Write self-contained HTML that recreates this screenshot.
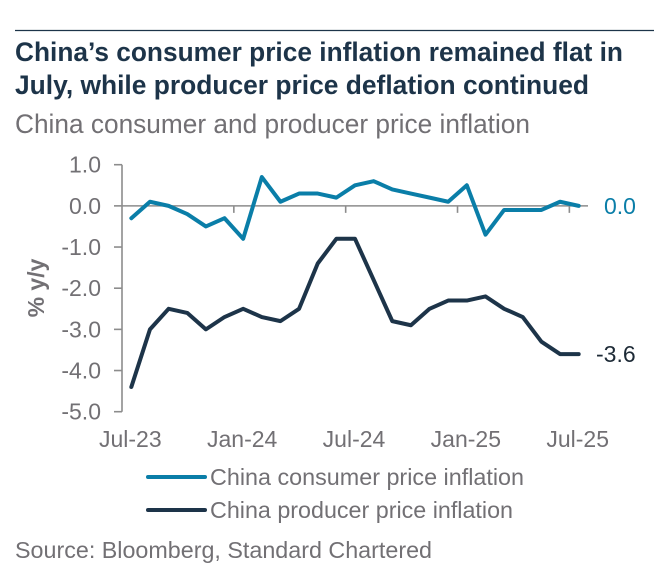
<!DOCTYPE html>
<html lang="en">
<head>
<meta charset="utf-8">
<title>China consumer and producer price inflation</title>
<style>
html,body{margin:0;padding:0;background:#fff;}
svg{display:block;font-family:"Liberation Sans",Arial,sans-serif;}
</style>
</head>
<body>
<svg id="chart" width="670" height="582" viewBox="0 0 670 582" xmlns="http://www.w3.org/2000/svg">
  <rect width="670" height="582" fill="#ffffff"/>
  <line x1="15" x2="654" y1="30.5" y2="30.5" stroke="#1d3449" stroke-width="1.2"/>
  <text x="15" y="61" font-size="27" font-weight="700" fill="#1d3449" textLength="608" lengthAdjust="spacingAndGlyphs">China’s consumer price inflation remained flat in</text>
  <text x="15" y="94" font-size="27" font-weight="700" fill="#1d3449" textLength="574" lengthAdjust="spacingAndGlyphs">July, while producer price deflation continued</text>
  <text x="15" y="133" font-size="26.5" fill="#727074" textLength="515" lengthAdjust="spacingAndGlyphs">China consumer and producer price inflation</text>
  <g id="plot"></g>
  <text transform="translate(44,288) rotate(-90)" text-anchor="middle" font-size="23" font-weight="700" fill="#727074">% y/y</text>
  <line x1="148" x2="205" y1="477" y2="477" stroke="#0a7ea8" stroke-width="4" stroke-linecap="round"/>
  <text x="210" y="485" font-size="23.5" fill="#727074" textLength="314" lengthAdjust="spacingAndGlyphs">China consumer price inflation</text>
  <line x1="148" x2="205" y1="510" y2="510" stroke="#1d3449" stroke-width="4" stroke-linecap="round"/>
  <text x="210" y="518" font-size="23.5" fill="#727074" textLength="303" lengthAdjust="spacingAndGlyphs">China producer price inflation</text>
  <text x="15" y="558" font-size="23.5" fill="#727074" textLength="417" lengthAdjust="spacingAndGlyphs">Source: Bloomberg, Standard Chartered</text>
</svg>
<script>
const categories = ['Jul-23','Aug-23','Sep-23','Oct-23','Nov-23','Dec-23','Jan-24','Feb-24','Mar-24','Apr-24','May-24','Jun-24','Jul-24','Aug-24','Sep-24','Oct-24','Nov-24','Dec-24','Jan-25','Feb-25','Mar-25','Apr-25','May-25','Jun-25','Jul-25'];
const consumerValues = [-0.3,0.1,0.0,-0.2,-0.5,-0.3,-0.8,0.7,0.1,0.3,0.3,0.2,0.5,0.6,0.4,0.3,0.2,0.1,0.5,-0.7,-0.1,-0.1,-0.1,0.1,0.0];
const producerValues = [-4.4,-3.0,-2.5,-2.6,-3.0,-2.7,-2.5,-2.7,-2.8,-2.5,-1.4,-0.8,-0.8,-1.8,-2.8,-2.9,-2.5,-2.3,-2.3,-2.2,-2.5,-2.7,-3.3,-3.6,-3.6];
const yTickValues = [1,0,-1,-2,-3,-4,-5];
const xLabelCategories = ['Jul-23','Jan-24','Jul-24','Jan-25','Jul-25'];
const xTickCategories = ['Jan-24','Jul-24','Jan-25','Jul-25'];

const NS = 'http://www.w3.org/2000/svg';
const plot = document.getElementById('plot');
const left = 122, right = 588, top_ = 164.7, bottom = 411.7;
const yMax = 1, yMin = -5;
const band = (right - left) / categories.length;
function xPos(i){ return left + band * (i + 0.5); }
function xEdge(i){ return left + band * i; }
function yPos(v){ return top_ + (yMax - v) / (yMax - yMin) * (bottom - top_); }
function svgEl(tag, attrs, text){
  const el = document.createElementNS(NS, tag);
  for (const k in attrs) el.setAttribute(k, attrs[k]);
  if (text !== undefined) el.textContent = text;
  plot.appendChild(el);
  return el;
}
const axisColor = '#8c8c8c', labelColor = '#727074';

let el = svgEl('line', {x1:left, x2:left, y1:top_, y2:bottom, stroke:axisColor, 'stroke-width':1.6});


el = svgEl('line', {x1:left, x2:right, y1:yPos(0), y2:yPos(0), stroke:axisColor, 'stroke-width':1.6});



yTickValues.forEach(function(v){
  const t = svgEl('line', {x1:left-8, x2:left, y1:yPos(v), y2:yPos(v), stroke:axisColor, 'stroke-width':1.6});
  
  
  const l = svgEl('text', {x:left-21, y:yPos(v)+8, 'text-anchor':'end', 'font-size':23, fill:labelColor}, v.toFixed(1));
  
  
});
xTickCategories.forEach(function(c){
  const x = xEdge(categories.indexOf(c));
  const t = svgEl('line', {x1:x, x2:x, y1:yPos(0), y2:yPos(0)+7, stroke:axisColor, 'stroke-width':1.6});
  
  
});
xLabelCategories.forEach(function(c){
  const l = svgEl('text', {x:xPos(categories.indexOf(c)) - 1, y:447, 'text-anchor':'middle', 'font-size':23, fill:labelColor}, c);
  
  
});
function points(vals){ return vals.map(function(v,i){ return xPos(i).toFixed(2)+','+yPos(v).toFixed(2); }).join(' '); }
const lineConsumer = svgEl('polyline', {points:points(consumerValues), fill:'none', stroke:'#0a7ea8', 'stroke-width':4, 'stroke-linejoin':'round', 'stroke-linecap':'round'});


const lineProducer = svgEl('polyline', {points:points(producerValues), fill:'none', stroke:'#1d3449', 'stroke-width':4, 'stroke-linejoin':'round', 'stroke-linecap':'round'});



const lastC = consumerValues[consumerValues.length-1], lastP = producerValues[producerValues.length-1];
const endC = svgEl('text', {x:604, y:yPos(lastC)+8, 'font-size':23, fill:'#0a7ea8'}, lastC.toFixed(1));


const endP = svgEl('text', {x:596, y:yPos(lastP)+8, 'font-size':23, fill:'#1d2a36'}, lastP.toFixed(1));


</script>
</body>
</html>
